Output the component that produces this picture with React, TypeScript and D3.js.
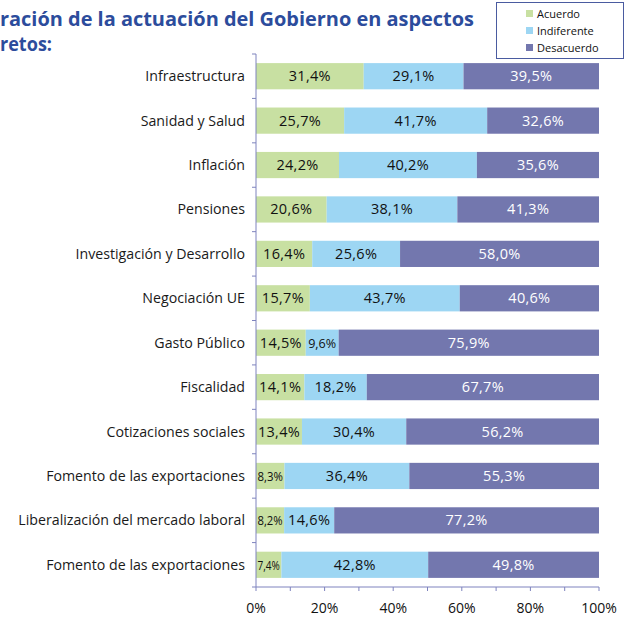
import React from "react";
import * as d3 from "d3";

const categories = [
  "Infraestructura",
  "Sanidad y Salud",
  "Inflación",
  "Pensiones",
  "Investigación y Desarrollo",
  "Negociación UE",
  "Gasto Público",
  "Fiscalidad",
  "Cotizaciones sociales",
  "Fomento de las exportaciones",
  "Liberalización del mercado laboral",
  "Fomento de las exportaciones",
];
const acuerdo = [31.4, 25.7, 24.2, 20.6, 16.4, 15.7, 14.5, 14.1, 13.4, 8.3, 8.2, 7.4];
const indiferente = [29.1, 41.7, 40.2, 38.1, 25.6, 43.7, 9.6, 18.2, 30.4, 36.4, 14.6, 42.8];
const desacuerdo = [39.5, 32.6, 35.6, 41.3, 58.0, 40.6, 75.9, 67.7, 56.2, 55.3, 77.2, 49.8];
const seriesNames = ["Acuerdo", "Indiferente", "Desacuerdo"];
const xTicks = [0, 20, 40, 60, 80, 100];
const titleLines = ["ración de la actuación del Gobierno en aspectos", "retos:"];

const colors = ["#C8E0A2", "#9DD6F3", "#7377AE"];
const textColors = ["#111", "#111", "#fff"];
const FONT = "'Open Sans', 'Noto Sans', sans-serif";

export default function App() {
  const W = 628, H = 619;
  const x = d3.scaleLinear().domain([0, 100]).range([256, 599]);
  const idx = categories.map((_, i) => i);
  const y = d3.scaleBand<number>().domain(idx).range([54, 587]).paddingInner(0.41).paddingOuter(0.205);
  const step = y.step();
  const rows = idx.map((i) => ({ i, a: acuerdo[i], b: indiferente[i], c: desacuerdo[i] }));
  const stack = d3.stack<any>().keys(["a", "b", "c"]);
  const series = stack(rows);
  const fmt = (v: number) => v.toFixed(1).replace(".", ",") + "%";
  const axisColor = "#7E83BE";

  return (
    <svg width={W} height={H} style={{ position: "absolute", left: 0, top: 0, background: "#fff" }}>
      {/* title */}
      <text x={0} y={26} fill="#2C4C9C" fontFamily={FONT} fontWeight="bold" fontSize={19.5}
        textLength={474} lengthAdjust="spacingAndGlyphs">{titleLines[0]}</text>
      <text x={0} y={50.5} fill="#2C4C9C" fontFamily={FONT} fontWeight="bold" fontSize={19.5}
        textLength={52} lengthAdjust="spacingAndGlyphs">{titleLines[1]}</text>

      {/* legend */}
      <rect x={496.5} y={2.5} width={127} height={56} fill="#fff" stroke="#4A5BA0" strokeWidth={1} />
      {seriesNames.map((n, k) => (
        <g key={n}>
          <rect x={526} y={10 + k * 17} width={7} height={7} fill={colors[k]} />
          <text x={537} y={17.5 + k * 17} fontFamily={FONT} fontSize={11} fill="#111">{n}</text>
        </g>
      ))}

      {/* bars */}
      {series.map((s, k) => (
        <g key={k}>
          {s.map((d, j) => {
            const x0 = x(d[0]), x1 = x(d[1]);
            const w = x1 - x0;
            const v = (d.data as any)[["a", "b", "c"][k]];
            const yy = y(j)!;
            const small = v < 10;
            const fs = small ? 12 : 14.5;
            return (
              <g key={j}>
                <rect x={x0} y={yy} width={w} height={y.bandwidth()} fill={colors[k]} />
                <text x={(x0 + x1) / 2} y={yy + y.bandwidth() / 2 + 5} textAnchor="middle"
                  fontFamily={FONT} fontSize={fs} fill={textColors[k]}
                  letterSpacing={small ? 0 : 0.3}
                  {...(small ? { textLength: Math.min(28, w - 3), lengthAdjust: "spacingAndGlyphs" } : {})}>
                  {fmt(v)}
                </text>
              </g>
            );
          })}
        </g>
      ))}

      {/* y axis */}
      <line x1={256} x2={256} y1={54} y2={587} stroke={axisColor} />
      {d3.range(categories.length + 1).map((k) => (
        <line key={k} x1={252} x2={256} y1={54 + k * step} y2={54 + k * step} stroke={axisColor} />
      ))}
      {categories.map((c, i) => (
        <text key={i} x={245} y={y(i)! + y.bandwidth() / 2 + 5} textAnchor="end"
          fontFamily={FONT} fontSize={14.2} fill="#1a1a1a">{c}</text>
      ))}

      {/* x axis */}
      <line x1={256} x2={599} y1={587} y2={587} stroke={axisColor} />
      {d3.range(0, 101, 10).map((t) => (
        <line key={t} x1={x(t)} x2={x(t)} y1={587} y2={591} stroke={axisColor} />
      ))}
      {xTicks.map((t) => (
        <text key={t} x={x(t)} y={613} textAnchor="middle" fontFamily={FONT} fontSize={14} fill="#111">
          {t}%
        </text>
      ))}
    </svg>
  );
}
